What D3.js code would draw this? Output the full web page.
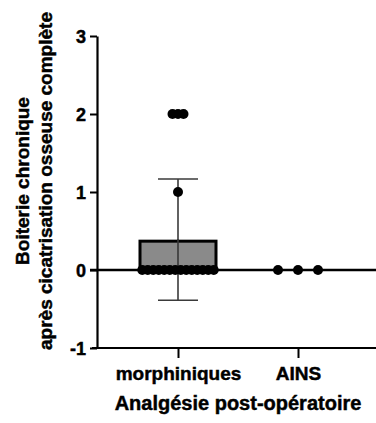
<!DOCTYPE html>
<html><head><meta charset="utf-8">
<script src="https://cdn.jsdelivr.net/npm/d3@7"></script>
<style>body{margin:0;background:#fff}svg{display:block}text{font-family:"Liberation Sans",Arial,sans-serif;font-weight:bold;fill:#000;stroke:#000;stroke-width:0.45px}</style>
</head><body><svg id="c" width="376" height="423"></svg>
<script>
const categories = ["morphiniques", "AINS"];
const morphiniquesValues = [0,0,0,0,0,0,0,0,0,0,0,0,0,0,1,2,2,2];
const ainsValues = [0,0,0];
const yTicks = [-1, 0, 1, 2, 3];
const yLabelLines = ["Boiterie chronique", "après cicatrisation osseuse complète"];
const xTitle = "Analgésie post-opératoire";

const groups = [
  {name: categories[0], values: morphiniquesValues, spacing: 5.5},
  {name: categories[1], values: ainsValues, spacing: 20}
];

const svg = d3.select("#c");
const y = d3.scaleLinear().domain([-1, 3]).range([348, 36]);
const x = d3.scalePoint().domain(categories).range([97, 379]).padding(0.675);

// y axis
const yAxis = svg.append("g").attr("transform", "translate(97,0)")
  .call(d3.axisLeft(y).tickValues(yTicks).tickFormat(d => String(d)).tickSize(7).tickSizeOuter(0));
yAxis.select(".domain").attr("stroke", "#000").attr("stroke-width", 2.2);
yAxis.selectAll(".tick line").attr("stroke", "#000").attr("stroke-width", 2);
yAxis.selectAll(".tick text").attr("x", -11).attr("dy", "0.36em").style("font-size", "18px").style("font-family", "Liberation Sans, Arial, sans-serif").style("font-weight", "bold");

// x axis
const xAxis = svg.append("g").attr("transform", "translate(0,348)")
  .call(d3.axisBottom(x).tickSize(10).tickSizeOuter(0));
xAxis.select(".domain").attr("d", "M92,0H376").attr("stroke", "#000").attr("stroke-width", 2.2);
xAxis.selectAll(".tick line").attr("stroke", "#000").attr("stroke-width", 2);
xAxis.selectAll(".tick text").attr("y", 32).attr("dy", 0).style("font-size", "19px").style("font-family", "Liberation Sans, Arial, sans-serif").style("font-weight", "bold");

// stats
const stats = groups.map(g => ({
  name: g.name,
  mean: d3.mean(g.values),
  sd: d3.deviation(g.values)
}));

const barW = 79;
const st = stats.filter(s => s.mean > 0);

// error bars
svg.selectAll(".err").data(st).enter().append("line")
  .attr("x1", d => x(d.name)).attr("x2", d => x(d.name))
  .attr("y1", d => y(d.mean + d.sd)).attr("y2", d => y(d.mean - d.sd))
  .attr("stroke", "#3a3a3a").attr("stroke-width", 1.6);
svg.selectAll(".capT").data(st).enter().append("line")
  .attr("x1", d => x(d.name) - 20).attr("x2", d => x(d.name) + 20)
  .attr("y1", d => y(d.mean + d.sd)).attr("y2", d => y(d.mean + d.sd))
  .attr("stroke", "#3a3a3a").attr("stroke-width", 1.6);
svg.selectAll(".capB").data(st).enter().append("line")
  .attr("x1", d => x(d.name) - 20).attr("x2", d => x(d.name) + 20)
  .attr("y1", d => y(d.mean - d.sd)).attr("y2", d => y(d.mean - d.sd))
  .attr("stroke", "#3a3a3a").attr("stroke-width", 1.6);

// bars
svg.selectAll(".bar").data(st).enter().append("rect")
  .attr("x", d => x(d.name) - barW / 2 + 1.5).attr("width", barW - 3)
  .attr("y", d => y(d.mean) + 1.5).attr("height", d => y(0) - y(d.mean) - 1.5)
  .attr("fill", "rgba(128,128,128,0.92)").attr("stroke", "#000").attr("stroke-width", 3);
svg.selectAll(".errIn").data(st).enter().append("line")
  .attr("x1", d => x(d.name)).attr("x2", d => x(d.name))
  .attr("y1", d => y(d.mean)).attr("y2", d => y(0))
  .attr("stroke", "#3a3a3a").attr("stroke-width", 1.6);

// zero line
svg.append("line").attr("x1", 90).attr("x2", 376).attr("y1", y(0)).attr("y2", y(0))
  .attr("stroke", "#000").attr("stroke-width", 2.6);

// points
const pts = [];
groups.forEach(g => {
  const counts = d3.rollup(g.values, v => v.length, d => d);
  counts.forEach((n, val) => {
    for (let i = 0; i < n; i++) {
      pts.push({name: g.name, v: val, off: (i - (n - 1) / 2) * g.spacing});
    }
  });
});
svg.selectAll(".pt").data(pts).enter().append("circle")
  .attr("cx", d => x(d.name) + d.off).attr("cy", d => y(d.v))
  .attr("r", 5).attr("fill", "#000");

// y label
const yl = svg.append("text").attr("transform", "translate(0,181) rotate(-90)")
  .attr("text-anchor", "middle").style("font-size", "19px");
yl.append("tspan").attr("x", 0).attr("y", 29).text(yLabelLines[0]);
yl.append("tspan").attr("x", 0).attr("y", 52).text(yLabelLines[1]);

// x title
svg.append("text").attr("x", 238).attr("y", 410).attr("text-anchor", "middle")
  .style("font-size", "20px").text(xTitle);
</script></body></html>
